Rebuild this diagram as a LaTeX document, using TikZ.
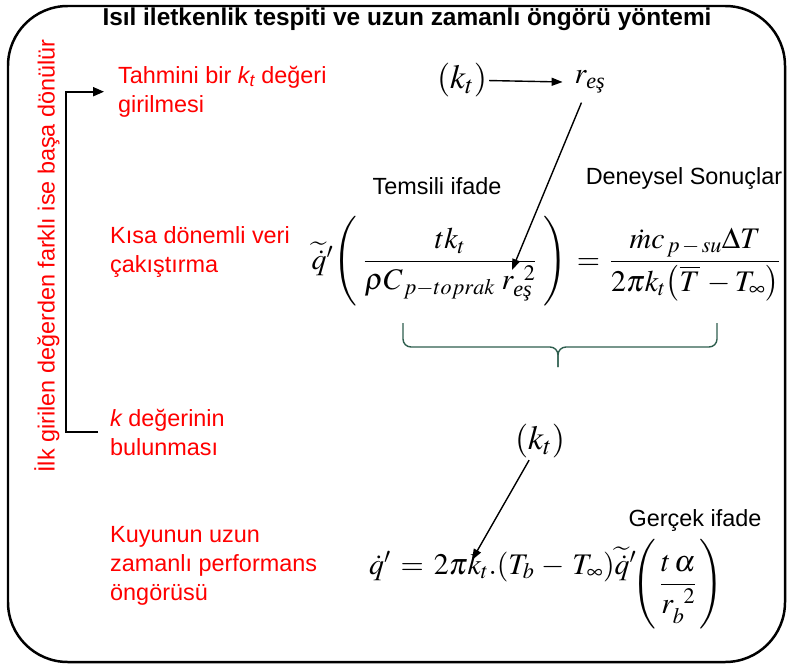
\documentclass[tikz,border=0pt]{standalone}
\usepackage{amsmath}
\usepackage{mathptmx}
\usepackage[no-math]{fontspec}
\setmainfont{Liberation Sans}
\newfontfamily\eqfont{Liberation Serif}
\usepackage{xcolor}
\usetikzlibrary{arrows.meta, positioning, calc}

\definecolor{bracegreen}{RGB}{46,94,78}
\newcommand{\resh}{\text{\eqfont\itshape e\c{s}}}

\tikzset{
    redtxt/.style={text=red, align=left, anchor=north west, inner sep=0pt,
        font=\fontsize{23.5}{29}\selectfont},
    blktxt/.style={inner sep=0pt, font=\fontsize{23.5}{29}\selectfont},
    eqn/.style={inner sep=2pt, font=\fontsize{30}{35}\selectfont},
    ktnode/.style={inner sep=2pt, font=\fontsize{34}{38}\selectfont},
    arr/.style={-{Triangle[length=11pt, width=8pt]}, line width=1.4pt},
    backline/.style={-{Triangle[length=11pt, width=9pt]}, line width=1.8pt}
}

\begin{document}
\begin{tikzpicture}[x=1bp, y=-1bp]
    \useasboundingbox (0,0) rectangle (787,664);
    % frame and title
    \draw[line width=2.5pt, rounded corners=60] (8,6) rectangle (785,662);
    \node[blktxt, font=\fontsize{24.5}{29}\selectfont\bfseries] (title) at (407,19)
        {Isıl iletkenlik tespiti ve uzun zamanlı öngörü yöntemi};

    % steps on the left
    \node[redtxt] (tahmin) at (118,66) {Tahmini bir {\itshape k\textsubscript{t}} değeri\\girilmesi};
    \node[redtxt] (kisa) at (110,226) {Kısa dönemli veri\\çakıştırma};
    \node[redtxt] (kbul) at (110,409) {{\itshape k} değerinin\\bulunması};
    \node[redtxt] (kuyu) at (110,526) {Kuyunun uzun\\zamanlı performans\\öngörüsü};
    \node[blktxt, text=red, rotate=90] (donus) at (47,256)
        {İlk girilen değerden farklı ise başa dönülür};
    \draw[backline] ([xshift=-12pt]kbul.west) -- ++(-32,0) |- ([xshift=-14pt]tahmin.west);

    % short term fit
    \node[ktnode] (kt1) at (462,80) {$\left(k_t\right)$};
    \node[eqn] (req) at (590,82) {$r_{\resh}$};
    \draw[arr] (kt1) -- ([xshift=-10pt]req.west);
    \node[blktxt] (temsili) at (437,186) {Temsili ifade};
    \node[blktxt] (deneysel) at (684,178) {Deneysel Sonuçlar};
    \node[eqn, anchor=base] (eq1) at (546,269)
        {$\widetilde{\dot q}{}'\!\left(\;\dfrac{t k_t}{\rho C_{\,p-toprak}\; r_{\resh}^{\;\;2}}\;\right)
          \,=\, \dfrac{\dot m c_{\,p\,-\,su}\Delta T}{2\pi k_t\!\left(\overline{T}\,-T_\infty\right)}$};
    \coordinate (rtip) at (512,270);
    \draw[arr, shorten <=8pt] (req) -- (rtip);

    % brace under the equation
    \coordinate (brl) at (403,323);
    \coordinate (brr) at (717,323);
    \coordinate (brm) at (558,347);
    \coordinate (brt) at (558,367);
    \draw[bracegreen, line width=1.4pt, rounded corners=8] (brl) |- (brm) -- (brt);
    \draw[bracegreen, line width=1.4pt, rounded corners=8] (brr) |- (brm) -- (brt);

    % long term prediction
    \node[ktnode] (kt2) at (540,441) {$\left(k_t\right)$};
    \node[blktxt] (gercek) at (695,520) {Gerçek ifade};
    \node[eqn, anchor=base west] (eq2) at (367,574)
        {$\dot q' \,=\, 2\pi k_t.(T_b \,-\, T_\infty)\widetilde{\dot q}{}'\!
          \raisebox{-18pt}{$\left(\,\dfrac{t\,\alpha}{r_b^{\;\;2}}\,\right)$}$};
    \coordinate (ktip) at (472,560);
    \draw[arr] (kt2) -- (ktip);
\end{tikzpicture}
\end{document}
